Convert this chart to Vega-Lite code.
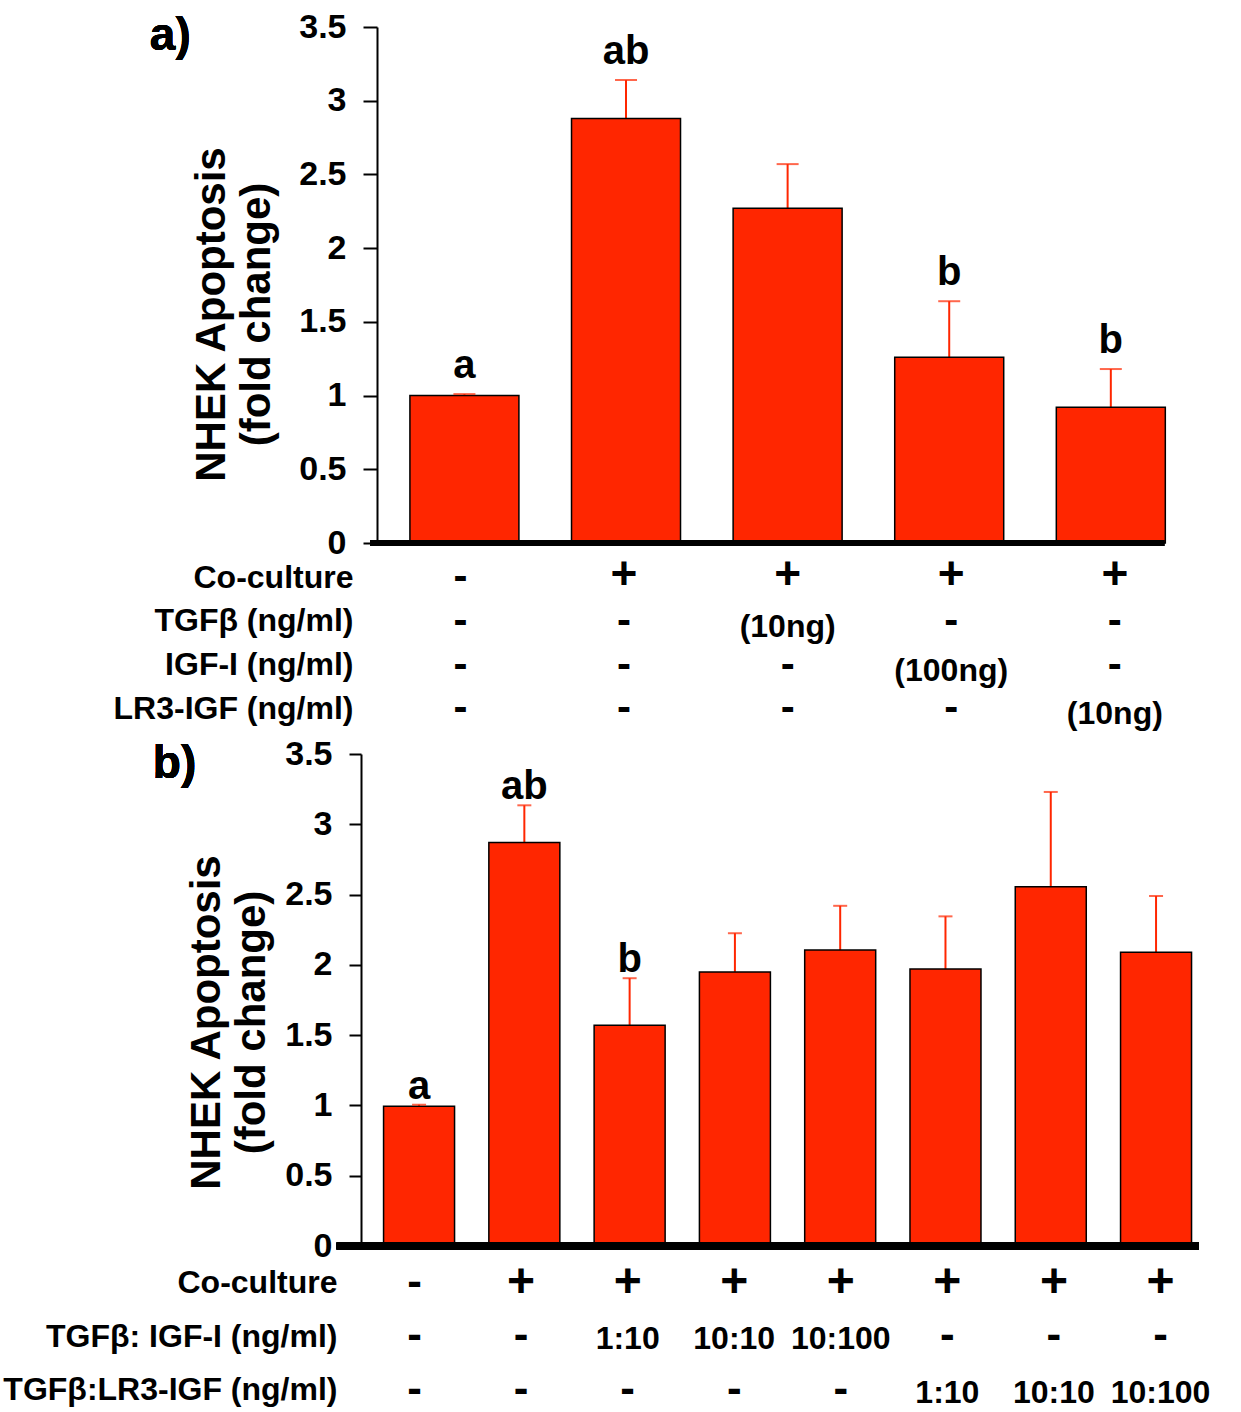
{
  "$schema": "https://vega.github.io/schema/vega-lite/v6.json",
  "padding": {"left": 2, "top": 10, "right": 5, "bottom": 0},
  "background": "white",
  "bounds": "flush",
  "spacing": 12,
  "config": {
    "font": "Liberation Sans",
    "view": {"stroke": null},
    "text": {"font": "Liberation Sans", "fontWeight": "bold", "color": "black"}
  },
  "datasets": {
    "a": [
      {"i": 1, "mean": 1.0, "err": 1.01, "letter": "a"},
      {"i": 2, "mean": 2.88, "err": 3.14, "letter": "ab"},
      {"i": 3, "mean": 2.27, "err": 2.57, "letter": ""},
      {"i": 4, "mean": 1.26, "err": 1.64, "letter": "b"},
      {"i": 5, "mean": 0.92, "err": 1.18, "letter": "b"}
    ],
    "b": [
      {"i": 1, "mean": 0.995, "err": 1.005, "letter": "a"},
      {"i": 2, "mean": 2.87, "err": 3.135, "letter": "ab"},
      {"i": 3, "mean": 1.57, "err": 1.905, "letter": "b"},
      {"i": 4, "mean": 1.95, "err": 2.225, "letter": ""},
      {"i": 5, "mean": 2.105, "err": 2.42, "letter": ""},
      {"i": 6, "mean": 1.97, "err": 2.345, "letter": ""},
      {"i": 7, "mean": 2.555, "err": 3.23, "letter": ""},
      {"i": 8, "mean": 2.09, "err": 2.49, "letter": ""}
    ],
    "ta": [
      {"row": "Co-culture", "i": 1, "v": "-"},
      {"row": "Co-culture", "i": 2, "v": "+"},
      {"row": "Co-culture", "i": 3, "v": "+"},
      {"row": "Co-culture", "i": 4, "v": "+"},
      {"row": "Co-culture", "i": 5, "v": "+"},
      {"row": "TGFβ (ng/ml)", "i": 1, "v": "-"},
      {"row": "TGFβ (ng/ml)", "i": 2, "v": "-"},
      {"row": "TGFβ (ng/ml)", "i": 3, "v": "(10ng)"},
      {"row": "TGFβ (ng/ml)", "i": 4, "v": "-"},
      {"row": "TGFβ (ng/ml)", "i": 5, "v": "-"},
      {"row": "IGF-I (ng/ml)", "i": 1, "v": "-"},
      {"row": "IGF-I (ng/ml)", "i": 2, "v": "-"},
      {"row": "IGF-I (ng/ml)", "i": 3, "v": "-"},
      {"row": "IGF-I (ng/ml)", "i": 4, "v": "(100ng)"},
      {"row": "IGF-I (ng/ml)", "i": 5, "v": "-"},
      {"row": "LR3-IGF (ng/ml)", "i": 1, "v": "-"},
      {"row": "LR3-IGF (ng/ml)", "i": 2, "v": "-"},
      {"row": "LR3-IGF (ng/ml)", "i": 3, "v": "-"},
      {"row": "LR3-IGF (ng/ml)", "i": 4, "v": "-"},
      {"row": "LR3-IGF (ng/ml)", "i": 5, "v": "(10ng)"}
    ],
    "tb": [
      {"row": "Co-culture", "i": 1, "v": "-"},
      {"row": "Co-culture", "i": 2, "v": "+"},
      {"row": "Co-culture", "i": 3, "v": "+"},
      {"row": "Co-culture", "i": 4, "v": "+"},
      {"row": "Co-culture", "i": 5, "v": "+"},
      {"row": "Co-culture", "i": 6, "v": "+"},
      {"row": "Co-culture", "i": 7, "v": "+"},
      {"row": "Co-culture", "i": 8, "v": "+"},
      {"row": "TGFβ: IGF-I (ng/ml)", "i": 1, "v": "-"},
      {"row": "TGFβ: IGF-I (ng/ml)", "i": 2, "v": "-"},
      {"row": "TGFβ: IGF-I (ng/ml)", "i": 3, "v": "1:10"},
      {"row": "TGFβ: IGF-I (ng/ml)", "i": 4, "v": "10:10"},
      {"row": "TGFβ: IGF-I (ng/ml)", "i": 5, "v": "10:100"},
      {"row": "TGFβ: IGF-I (ng/ml)", "i": 6, "v": "-"},
      {"row": "TGFβ: IGF-I (ng/ml)", "i": 7, "v": "-"},
      {"row": "TGFβ: IGF-I (ng/ml)", "i": 8, "v": "-"},
      {"row": "TGFβ:LR3-IGF (ng/ml)", "i": 1, "v": "-"},
      {"row": "TGFβ:LR3-IGF (ng/ml)", "i": 2, "v": "-"},
      {"row": "TGFβ:LR3-IGF (ng/ml)", "i": 3, "v": "-"},
      {"row": "TGFβ:LR3-IGF (ng/ml)", "i": 4, "v": "-"},
      {"row": "TGFβ:LR3-IGF (ng/ml)", "i": 5, "v": "-"},
      {"row": "TGFβ:LR3-IGF (ng/ml)", "i": 6, "v": "1:10"},
      {"row": "TGFβ:LR3-IGF (ng/ml)", "i": 7, "v": "10:10"},
      {"row": "TGFβ:LR3-IGF (ng/ml)", "i": 8, "v": "10:100"}
    ]
  },
  "vconcat": [
    {
      "width": 818,
      "height": 516,
      "data": {"name": "a"},
      "layer": [
        {
          "mark": {"type": "rule", "color": "#FF2600", "strokeWidth": 2},
          "encoding": {
            "x": {"field": "i", "type": "quantitative", "scale": {"domain": [0.49, 5.49], "nice": false, "zero": false}, "axis": null},
            "y": {"field": "mean", "type": "quantitative", "scale": {"domain": [0, 3.5], "nice": false},
              "axis": {
                "values": [0, 0.5, 1, 1.5, 2, 2.5, 3, 3.5], "format": ".1~f", "grid": false,
                "labelFont": "Liberation Sans", "labelFontSize": 34, "labelFontWeight": "bold", "labelColor": "black", "labelPadding": 17,
                "tickColor": "black", "tickSize": 14, "tickWidth": 2, "domainColor": "black", "domainWidth": 2,
                "title": ["NHEK Apoptosis", "(fold change)"], "titleFont": "Liberation Sans", "titleFontSize": 42, "titleFontWeight": "bold", "titleColor": "black",
                "titleLineHeight": 45, "titleAngle": -90, "titleAlign": "center", "titleBaseline": "middle", "titleX": -166, "titleY": 287
              }
            },
            "y2": {"field": "err"}
          }
        },
        {
          "mark": {"type": "bar", "orient": "vertical", "width": 109, "fill": "#FF2600", "stroke": "black", "strokeWidth": 1.5},
          "encoding": {
            "x": {"field": "i", "type": "quantitative"},
            "y": {"field": "mean", "type": "quantitative", "stack": null}
          }
        },
        {
          "mark": {"type": "tick", "orient": "horizontal", "size": 22, "thickness": 2, "color": "#FF2600"},
          "encoding": {
            "x": {"field": "i", "type": "quantitative"},
            "y": {"field": "err", "type": "quantitative"}
          }
        },
        {
          "transform": [{"filter": "datum.letter != ''"}],
          "mark": {"type": "text", "fontSize": 40, "fontWeight": "bold", "baseline": "alphabetic", "dy": -16},
          "encoding": {
            "x": {"field": "i", "type": "quantitative"},
            "y": {"field": "err", "type": "quantitative"},
            "text": {"field": "letter"}
          }
        },
        {
          "mark": {"type": "rule", "strokeWidth": 6, "color": "black"},
          "encoding": {
            "x": {"datum": 0.4167},
            "x2": {"datum": 5.331},
            "y": {"datum": 0}
          }
        },
        {
          "mark": {"type": "text", "fontSize": 46, "fontWeight": "bold", "align": "center", "baseline": "middle"},
          "encoding": {
            "x": {"datum": -0.82},
            "y": {"datum": 3.44},
            "text": {"value": "a)"}
          }
        }
      ]
    },
    {
      "width": 818,
      "height": 187,
      "data": {"name": "ta"},
      "layer": [
        {
          "transform": [{"filter": "datum.v == '+'"}],
          "mark": {"type": "text", "fontSize": 46, "fontWeight": "bold", "baseline": "middle", "dy": -2},
          "encoding": {
            "x": {"field": "i", "type": "quantitative", "scale": {"domain": [0.49, 5.49], "nice": false, "zero": false}, "axis": null},
            "y": {"field": "row", "type": "nominal",
              "scale": {"type": "point", "padding": 0.638, "align": 0.395, "domain": ["Co-culture", "TGFβ (ng/ml)", "IGF-I (ng/ml)", "LR3-IGF (ng/ml)"]},
              "axis": {"title": null, "domain": false, "ticks": false, "tickSize": 0, "labelPadding": 24, "labelLimit": 0,
                "labelFont": "Liberation Sans", "labelFontSize": 32, "labelFontWeight": "bold", "labelColor": "black", "labelBaseline": "middle"}
            },
            "text": {"field": "v"}
          }
        },
        {
          "transform": [{"filter": "datum.v == '-'"}],
          "mark": {"type": "text", "fontSize": 42, "fontWeight": "bold", "baseline": "middle"},
          "encoding": {
            "x": {"field": "i", "type": "quantitative"},
            "y": {"field": "row", "type": "nominal"},
            "text": {"field": "v"}
          }
        },
        {
          "transform": [{"filter": "datum.v != '+' && datum.v != '-'"}],
          "mark": {"type": "text", "fontSize": 32, "fontWeight": "bold", "baseline": "middle", "dy": 6},
          "encoding": {
            "x": {"field": "i", "type": "quantitative"},
            "y": {"field": "row", "type": "nominal"},
            "text": {"field": "v"}
          }
        }
      ]
    },
    {
      "width": 827,
      "height": 492,
      "data": {"name": "b"},
      "layer": [
        {
          "mark": {"type": "rule", "color": "#FF2600", "strokeWidth": 2},
          "encoding": {
            "x": {"field": "i", "type": "quantitative", "scale": {"domain": [0.648, 8.408], "nice": false, "zero": false}, "axis": null},
            "y": {"field": "mean", "type": "quantitative", "scale": {"domain": [0, 3.5], "nice": false},
              "axis": {
                "values": [0, 0.5, 1, 1.5, 2, 2.5, 3, 3.5], "format": ".1~f", "grid": false, "offset": 16,
                "labelFont": "Liberation Sans", "labelFontSize": 34, "labelFontWeight": "bold", "labelColor": "black", "labelPadding": 17,
                "tickColor": "black", "tickSize": 12, "tickWidth": 2, "domainColor": "black", "domainWidth": 2,
                "title": ["NHEK Apoptosis", "(fold change)"], "titleFont": "Liberation Sans", "titleFontSize": 42, "titleFontWeight": "bold", "titleColor": "black",
                "titleLineHeight": 45, "titleAngle": -90, "titleAlign": "center", "titleBaseline": "middle", "titleX": -155, "titleY": 268
              }
            },
            "y2": {"field": "err"}
          }
        },
        {
          "mark": {"type": "bar", "orient": "vertical", "width": 71, "fill": "#FF2600", "stroke": "black", "strokeWidth": 1.5},
          "encoding": {
            "x": {"field": "i", "type": "quantitative"},
            "y": {"field": "mean", "type": "quantitative", "stack": null}
          }
        },
        {
          "mark": {"type": "tick", "orient": "horizontal", "size": 14, "thickness": 2, "color": "#FF2600"},
          "encoding": {
            "x": {"field": "i", "type": "quantitative"},
            "y": {"field": "err", "type": "quantitative"}
          }
        },
        {
          "transform": [{"filter": "datum.letter != ''"}],
          "mark": {"type": "text", "fontSize": 40, "fontWeight": "bold", "baseline": "alphabetic", "dy": -6},
          "encoding": {
            "x": {"field": "i", "type": "quantitative"},
            "y": {"field": "err", "type": "quantitative"},
            "text": {"field": "letter"}
          }
        },
        {
          "mark": {"type": "rule", "strokeWidth": 7, "color": "black"},
          "encoding": {
            "x": {"datum": 0.2164},
            "x2": {"datum": 8.408},
            "y": {"datum": 0}
          }
        },
        {
          "mark": {"type": "text", "fontSize": 46, "fontWeight": "bold", "align": "center", "baseline": "middle"},
          "encoding": {
            "x": {"datum": -1.323},
            "y": {"datum": 3.427},
            "text": {"value": "b)"}
          }
        }
      ]
    },
    {
      "width": 827,
      "height": 146,
      "data": {"name": "tb"},
      "layer": [
        {
          "transform": [{"filter": "datum.v == '+'"}],
          "mark": {"type": "text", "fontSize": 48, "fontWeight": "bold", "baseline": "middle"},
          "encoding": {
            "x": {"field": "i", "type": "quantitative", "scale": {"domain": [0.648, 8.408], "nice": false, "zero": false}, "axis": null},
            "y": {"field": "row", "type": "nominal",
              "scale": {"type": "point", "padding": 0.364, "align": 0.64, "domain": ["Co-culture", "TGFβ: IGF-I (ng/ml)", "TGFβ:LR3-IGF (ng/ml)"]},
              "axis": {"title": null, "domain": false, "ticks": false, "tickSize": 0, "labelPadding": 40, "labelLimit": 0,
                "labelFont": "Liberation Sans", "labelFontSize": 32, "labelFontWeight": "bold", "labelColor": "black", "labelBaseline": "middle"}
            },
            "text": {"field": "v"}
          }
        },
        {
          "transform": [{"filter": "datum.v == '-'"}],
          "mark": {"type": "text", "fontSize": 44, "fontWeight": "bold", "baseline": "middle"},
          "encoding": {
            "x": {"field": "i", "type": "quantitative"},
            "y": {"field": "row", "type": "nominal"},
            "text": {"field": "v"}
          }
        },
        {
          "transform": [{"filter": "datum.v != '+' && datum.v != '-'"}],
          "mark": {"type": "text", "fontSize": 32, "fontWeight": "bold", "baseline": "middle", "dy": 3},
          "encoding": {
            "x": {"field": "i", "type": "quantitative"},
            "y": {"field": "row", "type": "nominal"},
            "text": {"field": "v"}
          }
        }
      ]
    }
  ]
}
